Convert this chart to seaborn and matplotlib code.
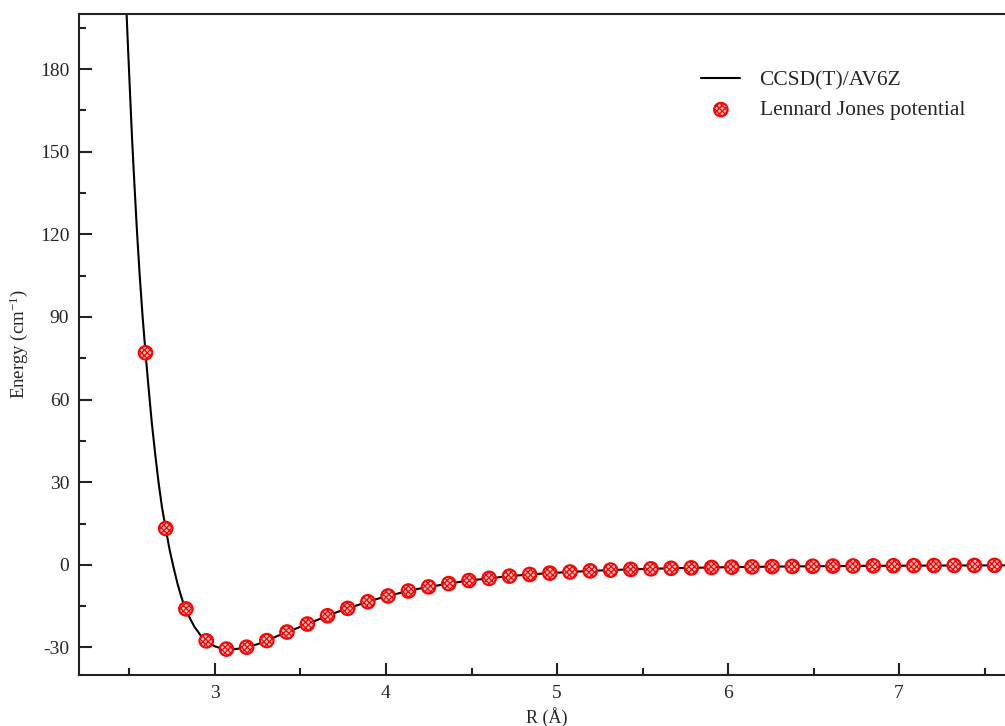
import matplotlib
matplotlib.use("Agg")
import matplotlib.pyplot as plt
from matplotlib.ticker import MultipleLocator
import seaborn as sns

# CCSD(T)/AV6Z curve
r_line = [2.48, 2.49, 2.50, 2.515, 2.53, 2.545, 2.56, 2.577, 2.594, 2.61, 2.63,
          2.65, 2.67, 2.69, 2.712, 2.735, 2.76, 2.78, 2.80, 2.815, 2.830,
          2.855, 2.88, 2.915, 2.949, 2.975, 3.00, 3.035, 3.067, 3.095, 3.12,
          3.15, 3.185, 3.22, 3.25, 3.275, 3.303, 3.33, 3.36, 3.39, 3.421,
          3.45, 3.48, 3.51, 3.540, 3.57, 3.60, 3.63, 3.658, 3.717, 3.776,
          3.835, 3.894, 3.953, 4.012, 4.07, 4.131, 4.19, 4.249, 4.31, 4.367,
          4.485, 4.603, 4.722, 4.840, 4.958, 5.076, 5.194, 5.313, 5.431, 5.549,
          5.667, 5.785, 5.904, 6.022, 6.140, 6.258, 6.376, 6.495, 6.613, 6.731,
          6.849, 6.967, 7.086, 7.204, 7.322, 7.440, 7.558, 7.68]
e_line = [205.0, 190.0, 176.0, 155.0, 137.0, 120.0, 105.0, 90.0, 77.0, 65.5, 52.0,
          40.5, 30.0, 21.0, 13.2, 5.4, -1.5, -6.6, -11.0, -13.8, -16.0,
          -19.6, -22.5, -25.5, -27.6, -28.7, -29.6, -30.3, -30.6, -30.7, -30.6,
          -30.3, -29.9, -29.3, -28.8, -28.2, -27.5, -26.8, -26.0, -25.2, -24.4,
          -23.7, -23.0, -22.2, -21.5, -20.7, -20.0, -19.2, -18.5, -17.1, -15.8,
          -14.6, -13.4, -12.3, -11.3, -10.4, -9.5, -8.7, -8.0, -7.4, -6.8,
          -5.7, -4.9, -4.1, -3.5, -3.0, -2.6, -2.2, -1.9, -1.65, -1.45,
          -1.25, -1.1, -0.95, -0.85, -0.75, -0.65, -0.58, -0.52, -0.46, -0.41,
          -0.37, -0.33, -0.30, -0.27, -0.24, -0.22, -0.20, -0.18]

# Lennard Jones potential points
r_pts = [2.594, 2.712, 2.830, 2.949, 3.067, 3.185, 3.303, 3.421, 3.540, 3.658,
         3.776, 3.894, 4.012, 4.131, 4.249, 4.367, 4.485, 4.603, 4.722, 4.840,
         4.958, 5.076, 5.194, 5.313, 5.431, 5.549, 5.667, 5.785, 5.904, 6.022,
         6.140, 6.258, 6.376, 6.495, 6.613, 6.731, 6.849, 6.967, 7.086, 7.204,
         7.322, 7.440, 7.558]
e_pts = [77.0, 13.2, -16.0, -27.6, -30.6, -29.9, -27.5, -24.4, -21.5, -18.5,
         -15.8, -13.4, -11.3, -9.5, -8.0, -6.8, -5.7, -4.9, -4.1, -3.5,
         -3.0, -2.6, -2.2, -1.9, -1.65, -1.45, -1.25, -1.1, -0.95, -0.85,
         -0.75, -0.65, -0.58, -0.52, -0.46, -0.41, -0.37, -0.33, -0.30, -0.27,
         -0.24, -0.22, -0.20]

x_ticks = [3, 4, 5, 6, 7]
y_ticks = [-30, 0, 30, 60, 90, 120, 150, 180]

sns.set_style("ticks")
plt.rcParams.update({
    "font.family": ["Liberation Serif", "DejaVu Serif"],
    "mathtext.fontset": "custom",
    "mathtext.rm": "Liberation Serif",
    "mathtext.it": "Liberation Serif:italic",
    "axes.unicode_minus": False,
    "hatch.color": "#ff2020",
    "hatch.linewidth": 0.9,
    "axes.linewidth": 1.5,
})

fig = plt.figure(figsize=(10.05, 7.26), dpi=100)
ax = fig.add_axes([79 / 1005, 51 / 726, 935 / 1005, 661 / 726])

sns.lineplot(x=r_line, y=e_line, color="black", linewidth=1.5, sort=False,
             ax=ax, label="CCSD(T)/AV6Z")
sns.scatterplot(x=r_pts, y=e_pts, s=95, color="#ffc4c4", edgecolor="red",
                linewidth=1.5, hatch="xxxxxx", ax=ax, zorder=3,
                label="Lennard Jones potential")

ax.set_xlim(2.205, 7.672)
ax.set_ylim(-40, 200)
ax.set_xticks(x_ticks)
ax.set_yticks(y_ticks)
ax.xaxis.set_minor_locator(MultipleLocator(0.5))
ax.yaxis.set_minor_locator(MultipleLocator(15))
ax.tick_params(which="both", direction="in", top=False, right=False,
               width=1.5, labelsize=14, pad=7, color="#222222")
ax.tick_params(which="major", length=9)
ax.tick_params(which="minor", length=5)
for sp in ax.spines.values():
    sp.set_visible(True)
    sp.set_color("#222222")
    sp.set_linewidth(1.5)

ax.set_xlabel("R (Å)", fontsize=13, labelpad=4)
ax.set_ylabel("Energy (cm$^{-1}$)", fontsize=13.5, labelpad=7)

handles, labels = ax.get_legend_handles_labels()
ax.legend(handles, labels, loc="upper left", bbox_to_anchor=(0.698, 0.903),
          bbox_transform=fig.transFigure, frameon=False, fontsize=15.5,
          handlelength=1.8, handletextpad=0.9, labelspacing=0.45,
          borderaxespad=0, borderpad=0, scatterpoints=1)

fig.savefig("out.png", dpi=100)
